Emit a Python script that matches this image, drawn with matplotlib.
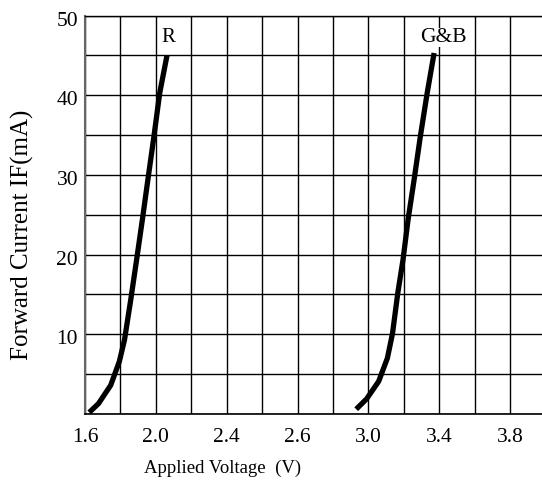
import numpy as np
import matplotlib
matplotlib.use("Agg")
import matplotlib.pyplot as plt
from matplotlib.transforms import ScaledTranslation

plt.rcParams['font.family'] = ['Liberation Serif', 'DejaVu Serif']

# forward curves (grid step 0.2 V starting at 1.6)
r_v = [1.624, 1.676, 1.745, 1.794, 1.823, 1.858, 1.891, 1.924, 1.955, 1.989, 2.022, 2.063]
r_i = [0.2, 1.3, 3.6, 6.6, 9.3, 14.3, 19.3, 24.4, 29.4, 34.8, 40.3, 45.0]
gb_v = [3.131, 3.190, 3.258, 3.307, 3.336, 3.366, 3.395, 3.424, 3.458, 3.493, 3.532, 3.571]
gb_i = [0.6, 1.9, 4.1, 7.0, 10.1, 15.2, 19.3, 24.4, 29.4, 34.8, 40.3, 45.3]

xtick_pos = [1.6, 2.0, 2.4, 2.8, 3.2, 3.6, 4.0]
xtick_lab = ["1.6", "2.0", "2.4", "2.6", "3.0", "3.4", "3.8"]
ytick_pos = [10, 20, 30, 40, 50]

fig = plt.figure(figsize=(5.42, 4.83), dpi=100)
ax = fig.add_axes([85/542, 69/483, 457/542, 398.5/483])

ax.plot(r_v, r_i, color='black', lw=3.8, solid_capstyle='butt', zorder=3)
ax.plot(gb_v, gb_i, color='black', lw=3.8, solid_capstyle='butt', zorder=3)

ax.set_xlim(1.6, 4.18)
ax.set_ylim(0, 50)
ax.set_xticks(xtick_pos)
ax.set_xticklabels(xtick_lab)
ax.set_xticks(np.arange(1.6, 4.1, 0.2), minor=True)
ax.set_yticks(ytick_pos)
ax.set_yticks(np.arange(0, 51, 5), minor=True)
ax.grid(which='both', color='black', lw=1.0)
ax.set_axisbelow(True)
ax.tick_params(which='both', length=0)
ax.tick_params(axis='x', pad=10, labelsize=15.5)
ax.tick_params(axis='y', pad=5, labelsize=15.5)

# y labels sit a little below their grid lines in the original
shift = ScaledTranslation(0, -3/100, fig.dpi_scale_trans)
for lab in ax.get_yticklabels():
    lab.set_transform(lab.get_transform() + shift)

ax.spines['right'].set_visible(False)
ax.spines['left'].set_color('#666666')
ax.spines['left'].set_linewidth(1.5)
ax.spines['bottom'].set_linewidth(1.2)
ax.spines['top'].set_linewidth(1.0)

ax.text(2.07, 47.2, "R", fontsize=15, ha='center', va='center')
ax.text(3.622, 47.2, "G&B", fontsize=15.5, ha='center', va='center',
        bbox=dict(facecolor='white', edgecolor='none', pad=0))

ax.set_ylabel("Forward Current IF(mA)", fontsize=18)
ax.yaxis.set_label_coords(-0.112, 0.45)
ax.set_xlabel("Applied Voltage  (V)", fontsize=13.5)
ax.xaxis.set_label_coords(0.30, -0.115)

fig.savefig("out.png", dpi=100)
